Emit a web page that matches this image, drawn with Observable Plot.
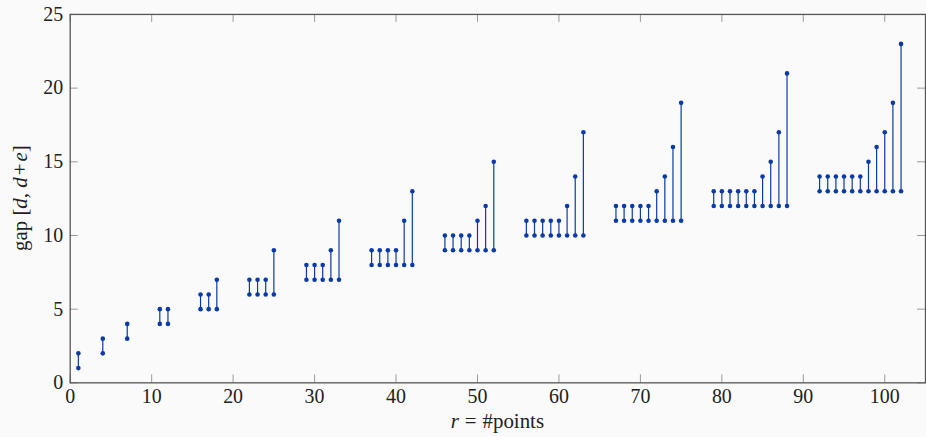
<!DOCTYPE html>
<html>
<head>
<meta charset="utf-8">
<script src="https://cdn.jsdelivr.net/npm/d3@7"></script>
<script src="https://cdn.jsdelivr.net/npm/@observablehq/plot@0.6"></script>
<style>
  html, body { margin: 0; padding: 0; background: #fafafa; overflow: hidden; }
  #chart { width: 926px; height: 437px; overflow: hidden; }
  #chart svg, #chart svg text { font-family: 'Liberation Serif', 'DejaVu Serif', serif !important; }
</style>
</head>
<body>
<div id="chart"></div>
<script>
// r = number of points, d = lower end of gap, e = gap length
const rValues = [1, 4, 7, 11, 12, 16, 17, 18, 22, 23, 24, 25,
  29, 30, 31, 32, 33, 37, 38, 39, 40, 41, 42,
  46, 47, 48, 49, 50, 51, 52,
  56, 57, 58, 59, 60, 61, 62, 63,
  67, 68, 69, 70, 71, 72, 73, 74, 75,
  79, 80, 81, 82, 83, 84, 85, 86, 87, 88,
  92, 93, 94, 95, 96, 97, 98, 99, 100, 101, 102];
const dValues = [1, 2, 3, 4, 4, 5, 5, 5, 6, 6, 6, 6,
  7, 7, 7, 7, 7, 8, 8, 8, 8, 8, 8,
  9, 9, 9, 9, 9, 9, 9,
  10, 10, 10, 10, 10, 10, 10, 10,
  11, 11, 11, 11, 11, 11, 11, 11, 11,
  12, 12, 12, 12, 12, 12, 12, 12, 12, 12,
  13, 13, 13, 13, 13, 13, 13, 13, 13, 13, 13];
const eValues = [1, 1, 1, 1, 1, 1, 1, 2, 1, 1, 1, 3,
  1, 1, 1, 2, 4, 1, 1, 1, 1, 3, 5,
  1, 1, 1, 1, 2, 3, 6,
  1, 1, 1, 1, 1, 2, 4, 7,
  1, 1, 1, 1, 1, 2, 3, 5, 8,
  1, 1, 1, 1, 1, 1, 2, 3, 5, 9,
  1, 1, 1, 1, 1, 1, 2, 3, 4, 6, 10];
const xTicks = [0, 10, 20, 30, 40, 50, 60, 70, 80, 90, 100];
const yTicks = [0, 5, 10, 15, 20, 25];

const gaps = rValues.map((r, i) => ({r, lo: dValues[i], hi: dValues[i] + eValues[i]}));

const W = 930, H = 437, mL = 70, mR = 1, mT = 14, mB = 53;
const plotW = W - mL - mR, plotH = H - mT - mB, tickLen = 8;
const blue = "#0a3aa6";
const font = "'Liberation Serif', 'DejaVu Serif', serif";

const chart = Plot.plot({
  width: W, height: H,
  marginLeft: mL, marginRight: mR, marginTop: mT, marginBottom: mB,
  style: {fontFamily: font, fontSize: "20px", color: "#222", background: "#fafafa", overflow: "visible"},
  x: {domain: [0, 105], label: null},
  y: {domain: [0, 25], label: null},
  marks: [
    Plot.ruleX(xTicks, {x: d => d, stroke: "#999", strokeWidth: 1, insetTop: plotH - tickLen}),
    Plot.ruleX(xTicks, {x: d => d, stroke: "#999", strokeWidth: 1, insetBottom: plotH - tickLen}),
    Plot.ruleY(yTicks, {y: d => d, stroke: "#999", strokeWidth: 1, insetRight: plotW - tickLen}),
    Plot.ruleY(yTicks, {y: d => d, stroke: "#999", strokeWidth: 1, insetLeft: plotW - tickLen}),
    Plot.frame({stroke: "#555", strokeWidth: 1.3}),
    Plot.axisX({ticks: xTicks, tickSize: 0, tickPadding: 6, label: null, fill: "#222"}),
    Plot.axisY({ticks: yTicks, tickSize: 0, tickPadding: 7, label: null, fill: "#222"}),
    Plot.ruleX(gaps, {x: "r", y1: "lo", y2: "hi", stroke: blue, strokeWidth: 1.2}),
    Plot.dot(gaps, {x: "r", y: "lo", r: 2.3, fill: blue, stroke: "none"}),
    Plot.dot(gaps, {x: "r", y: "hi", r: 2.3, fill: blue, stroke: "none"})
  ]
});
chart.setAttribute("font-family", "Liberation Serif");

const svg = d3.select(chart);
// x-axis label: r = #points
const xl = svg.append("text")
  .attr("x", mL + plotW / 2).attr("y", 430)
  .attr("text-anchor", "middle")
  .attr("font-family", "Liberation Serif")
  .style("font-size", "21px").attr("fill", "#222");
xl.append("tspan").attr("font-style", "italic").text("r");
xl.append("tspan").attr("dx", 6).text("=");
xl.append("tspan").attr("dx", 6).text("#points");

// y-axis label: gap [d, d+e]
const yl = svg.append("text")
  .attr("transform", `translate(27,${mT + plotH / 2}) rotate(-90)`)
  .attr("text-anchor", "middle")
  .attr("font-family", "Liberation Serif")
  .style("font-size", "21px").attr("fill", "#222");
yl.append("tspan").text("gap [");
yl.append("tspan").attr("font-style", "italic").text("d");
yl.append("tspan").text(", ");
yl.append("tspan").attr("font-style", "italic").text("d");
yl.append("tspan").attr("dx", 2).text("+");
yl.append("tspan").attr("dx", 2).attr("font-style", "italic").text("e");
yl.append("tspan").text("]");

document.getElementById("chart").appendChild(chart);
</script>
</body>
</html>
